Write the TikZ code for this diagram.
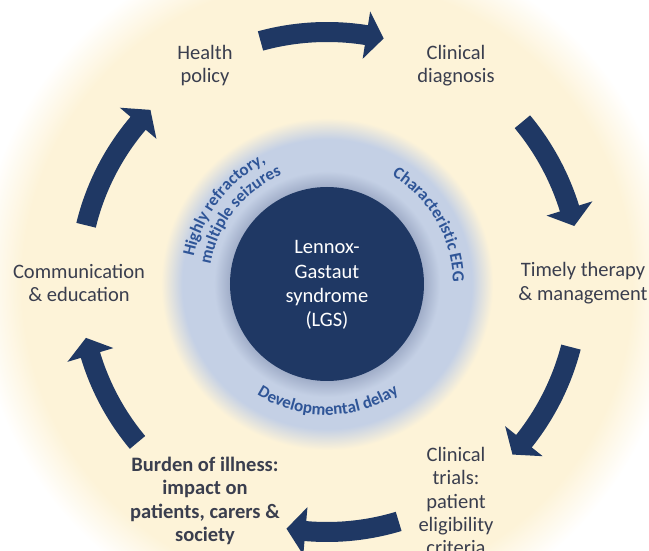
\documentclass[tikz,border=0pt]{standalone}
\usepackage{fontspec}
\setmainfont{Carlito}
\usetikzlibrary{decorations.text}
\definecolor{ybg}{RGB}{253,243,216}
\definecolor{ring}{RGB}{196,208,229}
\definecolor{navy}{RGB}{31,56,100}
\definecolor{halo}{RGB}{160,173,200}
\definecolor{lbl}{RGB}{58,62,78}
\definecolor{curv}{RGB}{47,85,151}
\pgfdeclareradialshading{bgglow}{\pgfpoint{0bp}{0bp}}{color(0bp)=(ybg);color(21.8bp)=(ybg);color(25bp)=(white);color(50bp)=(white)}
\pgfdeclareradialshading{ringglow}{\pgfpoint{0bp}{0bp}}{color(0bp)=(ring);color(21.8bp)=(ring);color(25bp)=(ybg);color(50bp)=(ybg)}
\pgfdeclareradialshading{haloglow}{\pgfpoint{0bp}{0bp}}{color(0bp)=(halo);color(21.4bp)=(halo);color(25bp)=(ring);color(50bp)=(ring)}
% tail angle, head-base angle, tip angle, radius
\newcommand\cyclearrow[4]{%
  \fill[navy] ({#1}:{#4-10}) arc[start angle={#1},end angle={#2},radius={#4-10}]
    -- ({#2}:{#4-24}) -- ({#3}:{#4}) -- ({#2}:{#4+24}) -- ({#2}:{#4+10})
    arc[start angle={#2},end angle={#1},radius={#4+10}] -- cycle;}
\begin{document}
\begin{tikzpicture}[x=1pt,y=1pt,
  lbltext/.style={text=lbl, align=center, inner sep=0pt, font=\fontsize{20.5}{23.3}\selectfont},
  curvtext/.style={decorate, decoration={text along path, text align=center, text={|\color{curv}\bfseries\fontsize{17}{18}\selectfont|#1}}}]
\useasboundingbox (-327,-267) rectangle (322,284);
\clip (-327,-267) rectangle (322,284);
\fill[white] (-327,-267) rectangle (322,284);
\shade[shading=bgglow] (0,0) circle (350);
\shade[shading=ringglow] (0,0) circle (166);
\shade[shading=haloglow] (0,0) circle (113);
\fill[navy] (0,0) circle (97);
% cycle arrows
\cyclearrow{105.3}{81}{77}{252}
\cyclearrow{39.7}{17.3}{13.2}{254}
\cyclearrow{-14.5}{-38.6}{-42.6}{252}
\cyclearrow{-73.2}{-95}{-99.4}{248}
\cyclearrow{219.9}{196.7}{192.6}{247}
\cyclearrow{166.3}{139.6}{135.4}{248}
% labels
\node[lbltext] (hp) at (-122,218.5) {Health\\policy};
\node[lbltext] (cd) at (129,218.5) {Clinical\\diagnosis};
\node[lbltext] (tt) at (256,1) {Timely therapy\\\& management};
\node[lbltext] (ct) at (129,-217) {Clinical\\trials:\\patient\\eligibility\\criteria};
\node[lbltext,font=\bfseries\fontsize{20.5}{23.3}\selectfont] (bi) at (-122,-217) {Burden of illness:\\impact on\\patients, carers \&\\society};
\node[lbltext] (ce) at (-248,1) {Communication\\\& education};
\node[text=white, align=center, inner sep=0pt, font=\fontsize{20.5}{24.3}\selectfont] (lgs) at (0,-1) {Lennox-\\Gastaut\\syndrome\\(LGS)};
% curved texts
\path[curvtext={Developmental delay}] (-139.5:131) arc[start angle=-139.5,end angle=-39.5,radius=131];
\path[curvtext={Characteristic EEG}] (80:126) arc[start angle=80,end angle=-20,radius=126];
\path[curvtext={Highly refractory,}] (192.5:136) arc[start angle=192.5,end angle=92.5,radius=136];
\path[curvtext={multiple seizures}] (191.5:118) arc[start angle=191.5,end angle=91.5,radius=118];
\end{tikzpicture}
\end{document}
